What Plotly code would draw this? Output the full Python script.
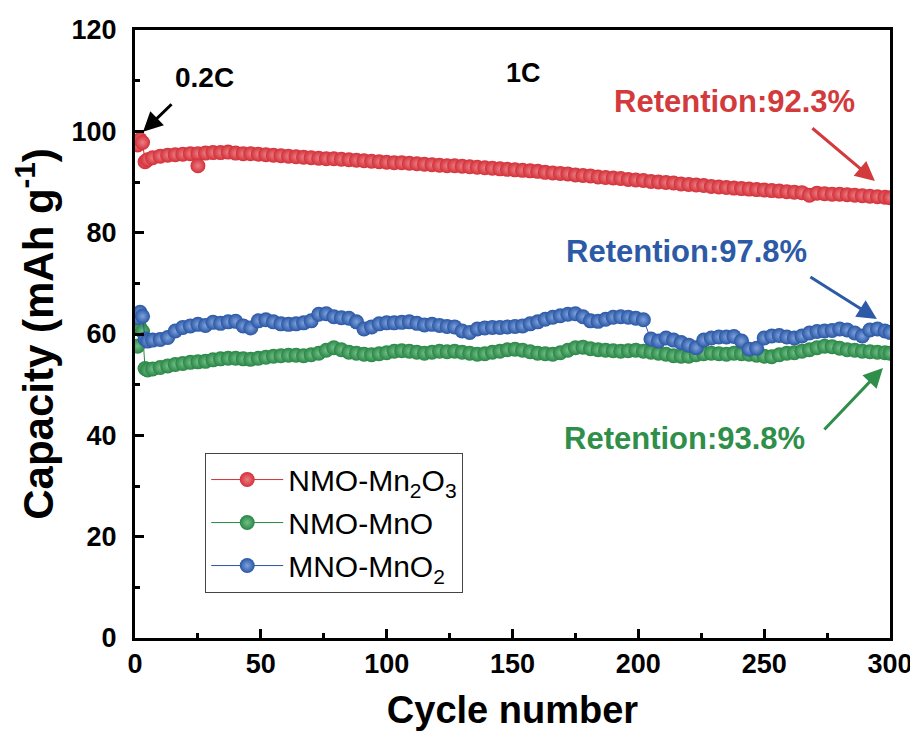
import plotly.graph_objects as go

# ---------------- data ----------------
cycles = [1, 2, 3, 4, 5] + list(range(7, 299, 3)) + [300]

red_capacity = [97.3, 98.4, 97.8, 94.0, 94.4,
    94.8, 95.1, 95.3, 95.4, 95.5, 95.6, 95.6, 95.7, 95.8, 95.8,
    95.9, 95.7, 95.6, 95.6, 95.5, 95.4, 95.3, 95.2, 95.1, 95.0,
    94.9, 94.8, 94.7, 94.6, 94.6, 94.5, 94.4, 94.3, 94.2, 94.1,
    94.0, 93.9, 93.8, 93.8, 93.7, 93.6, 93.5, 93.4, 93.3, 93.2,
    93.2, 93.1, 93.0, 92.9, 92.8, 92.7, 92.6, 92.5, 92.4, 92.3,
    92.2, 92.1, 91.9, 91.8, 91.7, 91.6, 91.4, 91.3, 91.2, 91.0,
    90.9, 90.8, 90.7, 90.5, 90.4, 90.3, 90.1, 90.0, 89.9, 89.8,
    89.6, 89.5, 89.4, 89.3, 89.1, 89.0, 88.9, 88.8, 88.7, 88.6,
    88.5, 88.4, 88.3, 88.2, 88.1, 88.0, 87.9, 87.4, 87.8, 87.7,
    87.6, 87.6, 87.5, 87.4, 87.3, 87.2, 87.1, 87.0,
    86.9]
red_outlier_cycle = 25
red_outlier_capacity = 93.2

green_capacity = [57.6, 61.2, 60.5, 53.2, 52.9,
    53.1, 53.4, 53.7, 54.0, 54.2, 54.4, 54.5, 54.6, 54.9, 55.1,
    55.2, 55.2, 55.1, 55.0, 55.2, 55.4, 55.6, 55.7, 55.8, 55.8,
    55.7, 55.9, 56.2, 56.8, 57.3, 56.9, 56.4, 56.2, 56.0, 55.9,
    56.1, 56.3, 56.6, 56.7, 56.6, 56.4, 56.2, 56.4, 56.6, 56.5,
    56.6, 56.4, 56.2, 56.0, 56.1, 56.4, 56.6, 56.9, 57.0, 56.8,
    56.5, 56.2, 56.1, 56.0, 56.3, 56.8, 57.3, 57.4, 57.1, 56.9,
    56.8, 56.7, 56.6, 56.7, 56.8, 56.6, 56.4, 56.2, 56.0, 55.7,
    55.6, 55.6, 55.9, 56.1, 56.2, 56.1, 56.0, 56.2, 56.1, 56.0,
    55.8, 55.6, 55.5, 55.9, 56.2, 56.3, 56.6, 56.9, 57.3, 57.6,
    57.5, 57.2, 56.9, 56.8, 56.6, 56.5, 56.4, 56.3,
    56.2]

blue_capacity = [63.2, 64.3, 63.5, 59.0, 58.6,
    58.8, 58.9, 59.3, 60.6, 61.3, 61.6, 61.9, 61.7, 62.3, 62.1,
    62.4, 62.5, 61.6, 61.2, 62.6, 62.8, 62.4, 62.0, 61.9, 62.0,
    62.2, 62.6, 63.9, 64.0, 63.4, 63.2, 63.1, 62.4, 61.0, 61.4,
    62.0, 62.2, 62.2, 62.3, 62.4, 62.1, 61.8, 61.9, 61.7, 61.5,
    61.4, 60.6, 60.3, 61.0, 61.2, 61.3, 61.3, 61.4, 61.5, 61.6,
    62.0, 62.4, 62.9, 63.3, 63.6, 63.9, 64.0, 63.4, 62.6, 62.5,
    62.9, 63.3, 63.4, 63.3, 63.1, 62.8, 59.0, 58.6, 59.2, 58.8,
    58.3, 57.8, 57.3, 58.8, 59.2, 59.4, 59.4, 59.5, 58.6, 57.0,
    57.2, 59.2, 59.6, 59.7, 59.4, 59.2, 59.6, 60.2, 60.5, 60.6,
    60.7, 61.0, 60.8, 60.2, 59.6, 60.8, 61.0, 60.6,
    60.3]

assert len(red_capacity) == len(cycles)
assert len(green_capacity) == len(cycles)
assert len(blue_capacity) == len(cycles)

# red series with its single outlier inserted in cycle order
red_x, red_y = [], []
for c, v in zip(cycles, red_capacity):
    red_x.append(c)
    red_y.append(v)
    if c == red_outlier_cycle:
        red_x.append(red_outlier_cycle)
        red_y.append(red_outlier_capacity)

series_names = ["NMO-Mn<sub>2</sub>O<sub>3</sub>", "NMO-MnO", "MNO-MnO<sub>2</sub>"]
series_colors = ["#d42f38", "#288645", "#2956a4"]
series_highlight = ["#ea7f84", "#74bf88", "#7fa2dc"]

x_ticks = [0, 50, 100, 150, 200, 250, 300]
y_ticks = [0, 20, 40, 60, 80, 100, 120]

FONT = "Liberation Sans, Arial, sans-serif"

fig = go.Figure()
for i, (xs, ys) in enumerate([(red_x, red_y), (cycles, green_capacity), (cycles, blue_capacity)]):
    fig.add_trace(go.Scatter(
        x=xs, y=ys, mode="lines+markers", name=series_names[i],
        legendgroup=str(i),
        line=dict(color=series_colors[i], width=1),
        marker=dict(color=series_colors[i], size=15, line=dict(width=0),
                    gradient=dict(type="radial", color=series_highlight[i])),
    ))

axis_common = dict(
    showline=True, linecolor="black", linewidth=3, mirror=True,
    ticks="inside", ticklen=9, tickwidth=3, tickcolor="black",
    showgrid=False, zeroline=False, automargin=False,
    tickfont=dict(family=FONT, size=27, color="black", weight="bold"),
)

fig.update_xaxes(
    range=[0, 300], tickvals=x_ticks,
    minor=dict(dtick=25, ticks="inside", ticklen=5, tickwidth=2.5, tickcolor="black"),
    title=dict(text="Cycle number", font=dict(family=FONT, size=38, color="black", weight="bold"), standoff=18),
    **axis_common)
fig.update_yaxes(
    range=[0, 120], tickvals=y_ticks, ticklabelstandoff=10,
    minor=dict(dtick=10, ticks="inside", ticklen=5, tickwidth=2.5, tickcolor="black"),
    title=dict(text="Capacity (mAh g<sup>-1</sup>)", font=dict(family=FONT, size=42, color="black", weight="bold"), standoff=6),
    **axis_common)

def ann_text(text, x, y, color, size):
    fig.add_annotation(x=x, y=y, xref="x", yref="y", text=text, showarrow=False,
                       font=dict(family=FONT, size=size, color=color, weight="bold"))

def ann_arrow(x, y, ax, ay, color):
    fig.add_annotation(x=x, y=y, xref="x", yref="y", ax=ax, ay=ay, axref="pixel", ayref="pixel",
                       text="", showarrow=True, arrowhead=2, arrowsize=1.3, arrowwidth=3,
                       arrowcolor=color)

ann_text("0.2C", 27.6, 110.6, "black", 28)
ann_text("1C", 154.2, 111.5, "black", 27)
ann_text("Retention:92.3%", 238.2, 105.8, "#d23a3c", 31)
ann_text("Retention:97.8%", 219.3, 76.2, "#2d5aa6", 31)
ann_text("Retention:93.8%", 218.5, 39.3, "#2f8f4a", 31)

ann_arrow(3.2, 99.9, 30, -29, "black")
ann_arrow(294.0, 90.2, -64, -54, "#d23a3c")
ann_arrow(294.8, 62.96, -68, -43, "#2d5aa6")
ann_arrow(297.2, 53.3, -60, 63, "#2f8f4a")

# the page adds an 8 px body margin, so the margins are reduced to compensate
fig.update_layout(
    width=918, height=744,
    margin=dict(l=127, r=36, t=22, b=114),
    paper_bgcolor="white", plot_bgcolor="white",
    showlegend=True,
    legend=dict(x=0.093, y=0.305, xanchor="left", yanchor="top",
                bordercolor="#444", borderwidth=1, bgcolor="white",
                font=dict(family=FONT, size=30, color="black"),
                itemwidth=72,
                tracegroupgap=1, traceorder="grouped"),
)

fig.write_html("out.html")
